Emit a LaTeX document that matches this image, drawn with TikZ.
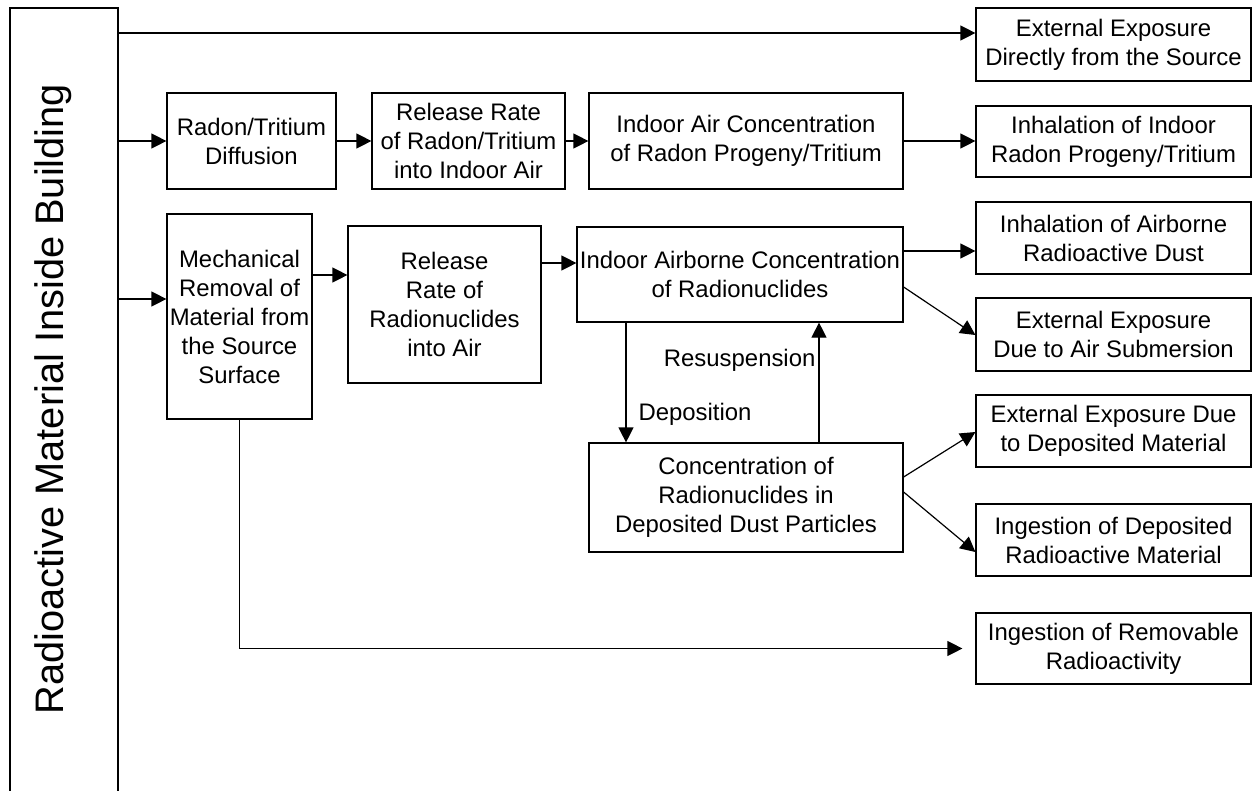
\documentclass[tikz,border=0pt]{standalone}
\usepackage{fontspec}
\setmainfont{Liberation Sans}
\usetikzlibrary{arrows.meta}
\begin{document}
\begin{tikzpicture}[x=1pt,y=-1pt,
  line width=1.2pt,
  box/.style={draw, rectangle, inner sep=0pt, align=center,
    font=\fontsize{23.9}{29}\selectfont},
  outbox/.style={box, minimum width=275, minimum height=72},
  arr/.style={-{Triangle[length=15pt,width=15pt]}},
  lbl/.style={inner sep=0pt, font=\fontsize{23.9}{29}\selectfont}]
\useasboundingbox (0,0) rectangle (1252,790);
\clip (0,0) rectangle (1252,790);

% source column (runs past the lower edge)
\node[draw, rectangle, inner sep=0pt, minimum width=108, minimum height=802] (src) at (64,409) {};
\node[inner sep=0pt, rotate=90, anchor=base west,
  font=\fontsize{39.8}{45}\selectfont] (srclabel) at (63,715) {Radioactive Material Inside Building};

% radon / tritium chain
\node[box, minimum width=169, minimum height=96] (diff)  at (251.5,141) {Radon/Tritium\\Diffusion};
\node[box, minimum width=193, minimum height=96] (relrn) at (468.5,141) {Release Rate\\of Radon/Tritium\\into Indoor Air};
\node[box, minimum width=314, minimum height=96] (airrn) at (746,141) {Indoor Air Concentration\\of Radon Progeny/Tritium};

% dust chain
\node[box, minimum width=145, minimum height=205] (mech) at (239.5,316.5) {Mechanical\\Removal of\\Material from\\the Source\\Surface};
\node[box, minimum width=193, minimum height=157] (relair) at (444.5,304.5) {Release\\Rate of\\Radionuclides\\into Air};
\node[box, minimum width=326, minimum height=95] (airconc) at (740,274.5) {Indoor Airborne Concentration\\of Radionuclides};
\node[box, minimum width=314, minimum height=109] (depconc) at (746,497.5) {Concentration of\\Radionuclides in\\Deposited Dust Particles};

% exposure pathways
\node[outbox, minimum height=73] (extdir)  at (1113.5,44.5)  {External Exposure\\Directly from the Source};
\node[outbox, minimum height=71] (inhrn)   at (1113.5,141.5) {Inhalation of Indoor\\Radon Progeny/Tritium};
\node[outbox] (inhdust) at (1113.5,238)   {Inhalation of Airborne\\Radioactive Dust};
\node[outbox, minimum height=73] (extair)  at (1113.5,334.5) {External Exposure\\Due to Air Submersion};
\node[outbox] (extdep)  at (1113.5,431)   {External Exposure Due\\to Deposited Material};
\node[outbox] (ingdep)  at (1113.5,540)   {Ingestion of Deposited\\Radioactive Material};
\node[outbox, minimum height=71] (ingrem)  at (1113.5,648.5) {Ingestion of Removable\\Radioactivity};

% labels of the deposition loop
\node[lbl, anchor=base east] (resus) at (816,366) {Resuspension};
\node[lbl, anchor=base west] (depo)  at (638,420) {Deposition};

% connectors
\draw[arr] (src.east |- 0,33) -- (extdir.west |- 0,33);
\draw[arr] (src.east |- diff.west) -- (diff.west);
\draw[arr] (diff.east) -- (relrn.west);
\draw[arr] (relrn.east) -- (airrn.west);
\draw[arr] (airrn.east) -- (inhrn.west |- airrn.east);
\draw[arr] (src.east |- 0,299) -- (mech.west |- 0,299);
\draw[arr] (mech.east |- 0,275) -- (relair.west |- 0,275);
\draw[arr] (relair.east |- 0,263) -- (airconc.west |- 0,263);
\draw[arr] (airconc.east |- 0,251) -- (inhdust.west |- 0,251);
\draw[arr] (airconc.east |- 0,287) -- (extair.west |- 0,335);
\draw[arr] (airconc.south -| 626,0) -- (depconc.north -| 626,0);
\draw[arr] (depconc.north -| 819,0) -- (airconc.south -| 819,0);
\draw[arr] (depconc.east |- 0,477) -- (extdep.west |- 0,432);
\draw[arr] (depconc.east |- 0,492) -- (ingdep.west |- 0,552);
\draw[arr] (mech.south) -- (mech.south |- ingrem.west) -- ([xshift=-13pt]ingrem.west);
\end{tikzpicture}
\end{document}
